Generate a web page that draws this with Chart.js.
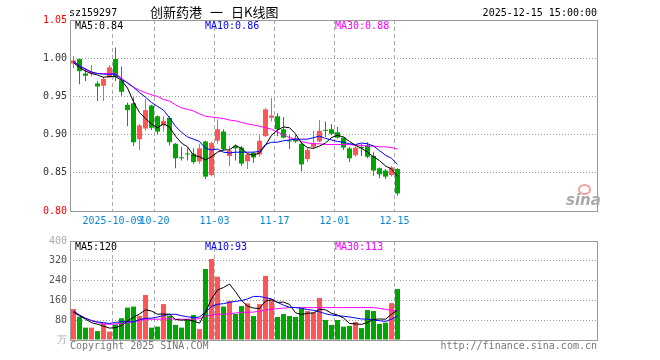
<!DOCTYPE html>
<html>
<head>
<meta charset="utf-8">
<script src="https://cdn.jsdelivr.net/npm/chart.js@4/dist/chart.umd.min.js"></script>
<style>
  body { margin: 0; background: #fff; width: 660px; height: 360px; position: relative; overflow: hidden;
         font-family: 'DejaVu Sans Mono', monospace; font-size: 10px; }
  canvas { position: absolute; left: 0; }
  .t { position: absolute; white-space: pre; line-height: 12px; }
  .cjk { position: absolute; white-space: pre; font-family: 'Noto Sans CJK SC'; font-size: 13px; line-height: 14px; color: #000; top: 5px; }
</style>
</head>
<body>
<canvas id="priceChart" width="660" height="232" style="top:0"></canvas>
<canvas id="volChart" width="660" height="128" style="top:232px"></canvas>

<div class="t" style="left:69px;top:7px;color:#000">sz159297</div>
<div class="cjk" style="left:150px">创新药港</div>
<div class="cjk" style="left:210px">一</div>
<div class="cjk" style="left:231px">日K线图</div>
<div class="t" style="right:63px;top:7px;color:#000">2025-12-15 15:00:00</div>
<div id="priceLegend"></div>
<div id="volLegend"></div>
<div class="t" style="left:70px;top:340px;color:#777">Copyright 2025 SINA.COM</div>
<div class="t" style="right:63px;top:340px;color:#777">http://finance.sina.com.cn</div>
<div style="position:absolute;left:578px;top:184px;width:9px;height:7px;border:2px solid #f4a0a0;border-radius:50%"></div>
<div class="t" style="left:566px;top:192px;color:#aaa;font-family:'DejaVu Sans';font-weight:bold;font-style:italic;font-size:15px;line-height:16px">sina</div>

<script>
// date ticks (candle index -> label)
const dateTickIdx = [7, 14, 24, 34, 44, 54];
const dateTickLabels = ['2025-10-09', '10-20', '11-03', '11-17', '12-01', '12-15'];
const priceTicks = [0.80, 0.85, 0.90, 0.95, 1.00, 1.05];
const volTicks = [0, 80, 160, 240, 320, 400];

const priceLegend = ['MA5:0.84', 'MA10:0.86', 'MA30:0.88'];
const volLegend = ['MA5:120', 'MA10:93', 'MA30:113'];

// daily candles, 2025-09-22 .. 2025-12-15
const openP = [0.993, 0.999, 0.980, 0.980, 0.967, 0.964, 0.975, 0.999, 0.971, 0.939,
               0.941, 0.894, 0.908, 0.938, 0.924, 0.912, 0.922, 0.888, 0.870, 0.875,
               0.875, 0.865, 0.891, 0.847, 0.892, 0.904, 0.872, 0.885, 0.883, 0.865,
               0.876, 0.874, 0.898, 0.922, 0.924, 0.907, 0.892, 0.895, 0.888, 0.868,
               0.884, 0.891, 0.906, 0.907, 0.903, 0.896, 0.882, 0.873, 0.884, 0.886,
               0.872, 0.856, 0.853, 0.847, 0.855];
const closeP = [0.997, 0.983, 0.977, 0.981, 0.963, 0.973, 0.988, 0.975, 0.956, 0.932,
                0.890, 0.912, 0.932, 0.909, 0.904, 0.918, 0.890, 0.869, 0.869, 0.874,
                0.864, 0.882, 0.845, 0.889, 0.907, 0.881, 0.879, 0.882, 0.862, 0.874,
                0.870, 0.892, 0.933, 0.925, 0.907, 0.896, 0.891, 0.891, 0.861, 0.880,
                0.889, 0.905, 0.905, 0.901, 0.896, 0.883, 0.869, 0.883, 0.882, 0.871,
                0.853, 0.848, 0.845, 0.857, 0.823];
const highP = [1.003, 0.999, 0.987, 0.991, 0.970, 0.976, 0.991, 1.014, 0.989, 0.942,
               0.949, 0.914, 0.947, 0.939, 0.925, 0.924, 0.924, 0.889, 0.884, 0.882,
               0.882, 0.888, 0.892, 0.891, 0.920, 0.907, 0.885, 0.887, 0.885, 0.876,
               0.878, 0.899, 0.935, 0.948, 0.928, 0.923, 0.899, 0.899, 0.890, 0.883,
               0.905, 0.919, 0.917, 0.914, 0.910, 0.897, 0.884, 0.886, 0.888, 0.890,
               0.877, 0.857, 0.855, 0.859, 0.856];
const lowP = [0.987, 0.966, 0.970, 0.976, 0.944, 0.944, 0.974, 0.970, 0.951, 0.911,
              0.885, 0.880, 0.905, 0.906, 0.900, 0.904, 0.886, 0.856, 0.866, 0.866,
              0.862, 0.862, 0.842, 0.845, 0.888, 0.879, 0.859, 0.866, 0.859, 0.855,
              0.863, 0.871, 0.897, 0.917, 0.898, 0.895, 0.881, 0.889, 0.852, 0.864,
              0.881, 0.890, 0.897, 0.899, 0.895, 0.880, 0.864, 0.871, 0.872, 0.869,
              0.846, 0.843, 0.842, 0.845, 0.820];

const ma5 = [0.994, 0.988, 0.983, 0.980, 0.978, 0.975, 0.976, 0.976, 0.971, 0.961,
             0.943, 0.929, 0.921, 0.914, 0.909, 0.914, 0.910, 0.898, 0.889, 0.884,
             0.873, 0.871, 0.867, 0.871, 0.877, 0.880, 0.880, 0.886, 0.882, 0.875,
             0.873, 0.876, 0.886, 0.899, 0.906, 0.910, 0.909, 0.901, 0.889, 0.883,
             0.882, 0.885, 0.889, 0.896, 0.899, 0.897, 0.891, 0.886, 0.882, 0.877,
             0.871, 0.866, 0.859, 0.855, 0.845];
const ma10 = [0.996, 0.990, 0.986, 0.982, 0.980, 0.979, 0.979, 0.979, 0.972, 0.968,
              0.962, 0.955, 0.949, 0.942, 0.937, 0.932, 0.922, 0.911, 0.903, 0.897,
              0.894, 0.891, 0.882, 0.880, 0.881, 0.877, 0.876, 0.877, 0.877, 0.877,
              0.877, 0.878, 0.887, 0.890, 0.890, 0.892, 0.893, 0.894, 0.894, 0.894,
              0.896, 0.898, 0.895, 0.893, 0.891, 0.890, 0.888, 0.887, 0.889, 0.888,
              0.885, 0.879, 0.873, 0.869, 0.861];
const ma30 = [0.995, 0.989, 0.985, 0.981, 0.980, 0.980, 0.980, 0.980, 0.974, 0.967,
              0.962, 0.958, 0.955, 0.952, 0.950, 0.946, 0.944, 0.939, 0.935, 0.933,
              0.931, 0.927, 0.924, 0.923, 0.922, 0.921, 0.919, 0.918, 0.916, 0.914,
              0.9125, 0.911, 0.909, 0.907, 0.903, 0.900, 0.896, 0.894, 0.891, 0.889,
              0.888, 0.888, 0.887, 0.887, 0.887, 0.887, 0.887, 0.886, 0.886, 0.885,
              0.885, 0.884, 0.884, 0.883, 0.881];

// volume in 万
const volume = [125, 94, 50, 50, 36, 67, 34, 63, 88, 131,
                135, 98, 182, 50, 54, 145, 98, 61, 50, 81,
                101, 44, 287, 327, 256, 135, 158, 105, 137, 148,
                97, 145, 259, 164, 93, 105, 97, 93, 128, 117,
                112, 170, 81, 61, 81, 54, 57, 73, 48, 121,
                117, 65, 70, 149, 206];
const volMa5 = [112, 98, 84, 70, 64, 56, 48, 50, 58, 77,
                92, 105, 122, 117, 104, 105, 104, 83, 80, 82,
                77, 68, 113, 166, 202, 212, 226, 195, 160, 137,
                129, 127, 157, 163, 152, 153, 144, 110, 103, 108,
                109, 124, 122, 108, 101, 89, 67, 65, 63, 71,
                83, 85, 84, 104, 121];
const volMa10 = [117, 101, 88, 78, 73, 70, 67, 71, 74, 74,
                 73, 82, 88, 88, 93, 98, 104, 104, 98, 94,
                 90, 93, 112, 136, 144, 147, 152, 156, 159, 166,
                 176, 176, 171, 166, 152, 141, 132, 131, 128, 123,
                 120, 114, 106, 101, 98, 96, 93, 89, 85, 84,
                 81, 78, 75, 84, 97];
const volMa30 = [112, 98, 88, 79, 71, 65, 63, 65, 66, 70,
                 74, 79, 84, 84, 84, 85, 86, 84, 84, 84,
                 84, 86, 96, 101, 104, 104, 106, 109, 112, 112,
                 113, 116, 121, 124, 127, 129, 131, 131, 131, 131,
                 131, 131, 131, 131, 131, 131, 131, 131, 131, 131,
                 131, 128, 124, 120, 117];

const RED = '#ff5555';
const GREEN = '#00a600';
const X_MIN = -0.5833;
const X_MAX = 87.25;

Chart.defaults.font.family = "'DejaVu Sans Mono', monospace";
Chart.defaults.font.size = 10;

const candleColors = closeP.map((c, i) => c >= openP[i] ? RED : GREEN);
const pts = arr => arr.map((v, i) => ({ x: i, y: v }));

// legends
function fillLegend(id, texts, top) {
    const colors = ['#000', '#0000ff', '#ff00ff'];
    const lefts = [75, 205, 335];
    const box = document.getElementById(id);
    texts.forEach((txt, k) => {
        const d = document.createElement('div');
        d.className = 't';
        d.style.left = lefts[k] + 'px';
        d.style.top = top + 'px';
        d.style.color = colors[k];
        d.textContent = txt;
        box.appendChild(d);
    });
}
fillLegend('priceLegend', priceLegend, 20);
fillLegend('volLegend', volLegend, 241);

const framePlugin = {
    id: 'frame',
    afterDraw(chart) {
        const a = chart.chartArea;
        const ctx = chart.ctx;
        ctx.save();
        ctx.strokeStyle = '#999';
        ctx.lineWidth = 1;
        ctx.strokeRect(a.left + 0.5, a.top + 0.5, a.right - a.left, a.bottom - a.top);
        ctx.restore();
    }
};

function lineSet(arr, color) {
    return {
        type: 'line', data: pts(arr), borderColor: color, borderWidth: 1,
        pointRadius: 0, tension: 0, order: 0
    };
}

function xScale(showLabels) {
    return {
        type: 'linear', min: X_MIN, max: X_MAX, offset: false,
        afterBuildTicks: s => { s.ticks = dateTickIdx.map(i => ({ value: i - 0.5 })); },
        afterFit: s => { s.height = showLabels ? 21 : 0; },
        ticks: {
            display: showLabels, autoSkip: false, maxRotation: 0, minRotation: 0,
            padding: 4, color: '#0b86d4',
            callback: (v, idx) => dateTickLabels[idx]
        },
        grid: { color: '#aaa', drawTicks: false, offset: false },
        border: { display: false, dash: [4, 3] }
    };
}

new Chart(document.getElementById('priceChart'), {
    type: 'bar',
    data: {
        datasets: [
            lineSet(ma5, '#000'),
            lineSet(ma10, '#0000ff'),
            lineSet(ma30, '#ff00ff'),
            {
                data: openP.map((o, i) => ({ x: i, y: [o, closeP[i]] })),
                backgroundColor: candleColors, barThickness: 5, stack: 'c',
                minBarLength: 1, inflateAmount: 0, order: 1
            },
            {
                data: lowP.map((l, i) => ({ x: i, y: [l, highP[i]] })),
                backgroundColor: candleColors, barThickness: 1, stack: 'c',
                inflateAmount: 0, order: 2
            }
        ]
    },
    options: {
        responsive: false,
        animation: false,
        devicePixelRatio: 1,
        layout: { padding: { top: 20, right: 63, left: 0, bottom: 0 } },
        plugins: { legend: { display: false }, tooltip: { enabled: false } },
        scales: {
            x: xScale(true),
            y: {
                min: 0.80, max: 1.05, stacked: false,
                afterBuildTicks: s => { s.ticks = priceTicks.map(v => ({ value: v })); },
                afterFit: s => { s.width = 70; },
                ticks: {
                    padding: 3,
                    color: c => (c.index === 0 || c.index === priceTicks.length - 1) ? '#ff0000' : '#333',
                    callback: v => v.toFixed(2)
                },
                grid: { color: '#999', drawTicks: false },
                border: { display: false, dash: [1, 2] }
            }
        }
    },
    plugins: [framePlugin]
});

new Chart(document.getElementById('volChart'), {
    type: 'bar',
    data: {
        datasets: [
            lineSet(volMa5, '#000'),
            lineSet(volMa10, '#0000ff'),
            lineSet(volMa30, '#ff00ff'),
            {
                data: pts(volume),
                backgroundColor: candleColors, barThickness: 5, inflateAmount: 0, order: 1
            }
        ]
    },
    options: {
        responsive: false,
        animation: false,
        devicePixelRatio: 1,
        layout: { padding: { top: 9, right: 63, left: 0, bottom: 20 } },
        plugins: { legend: { display: false }, tooltip: { enabled: false } },
        scales: {
            x: xScale(false),
            y: {
                min: 0, max: 400,
                afterBuildTicks: s => { s.ticks = volTicks.map(v => ({ value: v })); },
                afterFit: s => { s.width = 70; },
                ticks: {
                    padding: 3,
                    color: c => (c.index === 0 || c.index === volTicks.length - 1) ? '#aaa' : '#555',
                    callback: v => v === 0 ? '万' : String(v)
                },
                grid: { color: '#999', drawTicks: false },
                border: { display: false, dash: [1, 2] }
            }
        }
    },
    plugins: [framePlugin]
});
</script>
</body>
</html>
